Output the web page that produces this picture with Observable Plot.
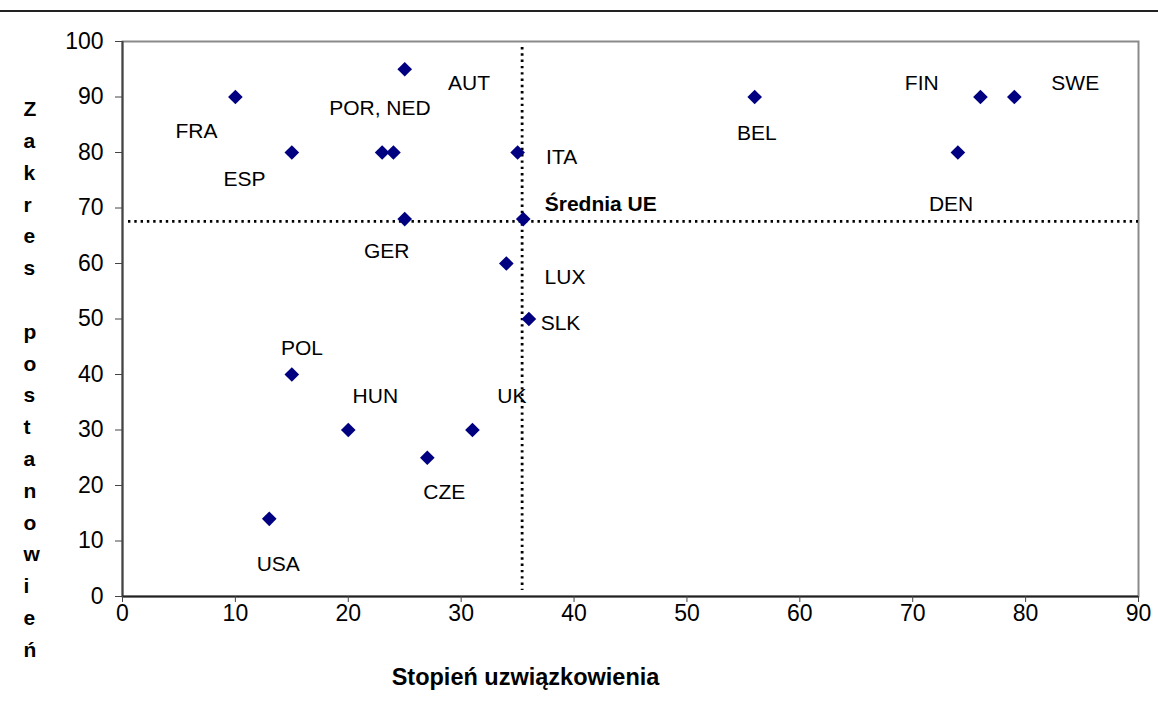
<!DOCTYPE html>
<html>
<head>
<meta charset="utf-8">
<script src="https://cdn.jsdelivr.net/npm/d3@7"></script>
<script src="https://cdn.jsdelivr.net/npm/@observablehq/plot@0.6"></script>
<style>
  html, body { margin: 0; padding: 0; background: #fff; }
  #wrap { position: relative; width: 1158px; height: 714px; overflow: hidden; }
  #rule { position: absolute; left: 0; top: 10px; width: 1158px; height: 2px; background: #222; }
  #chart { position: absolute; left: 0; top: 0; }
  #chart svg { font-family: "Liberation Sans", Arial, sans-serif; }
</style>
</head>
<body>
<div id="wrap">
  <div id="chart"></div>
  <div id="rule"></div>
</div>
<script>
// Data points: x = stopień uzwiązkowienia (union density, %), y = zakres postanowień (coverage, %)
const countries = ["FRA","ESP","AUT","POR","NED","ITA","GER","LUX","SLK","POL","HUN","UK","CZE","USA","BEL","FIN","SWE","DEN","UE"];
const unionDensity = [10, 15, 25, 23, 24, 35, 25, 34, 36, 15, 20, 31, 27, 13, 56, 76, 79, 74, 35.5];
const coverage     = [90, 80, 95, 80, 80, 80, 68, 60, 50, 40, 30, 30, 25, 14, 90, 90, 90, 80, 68];

// EU average reference lines
const euAvgDensity = 35.4;
const euAvgCoverage = 67.6;

// Label texts and their anchor values (in data units)
const labelTexts = ["FRA","ESP","POR, NED","AUT","ITA","GER","LUX","SLK","POL","HUN","UK","CZE","USA","BEL","FIN","SWE","DEN"];
const labelX     = [6.55, 10.8, 22.8, 30.7, 38.9, 23.4, 39.2, 38.8, 15.9, 22.4, 34.5, 28.5, 13.8, 56.2, 70.8, 84.4, 73.4];
const labelY     = [83.8, 75.2, 88.0, 92.4, 79.2, 62.2, 57.6, 49.2, 44.7, 36.0, 36.0, 18.7, 5.8, 83.5, 92.4, 92.4, 70.6];
const euLabel = ["Średnia UE"];
const euLabelX = [37.4];
const euLabelY = [70.6];

// Axis ticks and titles
const xTicks = [0,10,20,30,40,50,60,70,80,90];
const yTicks = [0,10,20,30,40,50,60,70,80,90,100];
const xTitle = "Stopień uzwiązkowienia";
const yTitle = "Zakres postanowień";

const points = countries.map((c, i) => ({country: c, x: unionDensity[i], y: coverage[i]}));
const labels = labelTexts.map((t, i) => ({text: t, x: labelX[i], y: labelY[i]}));
const euLabels = euLabel.map((t, i) => ({text: t, x: euLabelX[i], y: euLabelY[i]}));

const chart = Plot.plot({
  width: 1158,
  height: 714,
  marginTop: 41,
  marginBottom: 118,
  marginLeft: 122,
  marginRight: 20,
  style: {background: "#fff", color: "#000", fontFamily: "'Liberation Sans', Arial, sans-serif"},
  x: {domain: [0, 90]},
  y: {domain: [0, 100]},
  marks: [
    Plot.frame({stroke: "#8a8a8a", strokeWidth: 2}),
    Plot.ruleX([0], {stroke: "#444", strokeWidth: 2}),
    Plot.ruleY([0], {stroke: "#222", strokeWidth: 2}),
    Plot.axisY(yTicks, {tickSize: 7, tickPadding: 12, fontSize: 23, stroke: "#444", fill: "#000", label: null}),
    Plot.axisX(xTicks, {tickSize: 6, tickPadding: 2, fontSize: 23, stroke: "#444", fill: "#000", label: null}),
    Plot.ruleX([euAvgDensity], {stroke: "#000", strokeWidth: 2.8, strokeDasharray: "2.4,3.9", insetTop: 6, insetBottom: 6}),
    Plot.ruleY([euAvgCoverage], {stroke: "#000", strokeWidth: 2.8, strokeDasharray: "2.4,3.9", insetLeft: 6}),
    Plot.dot(points, {x: "x", y: "y", symbol: "diamond2", r: 6.6, fill: "#000080", stroke: null}),
    Plot.text(labels, {x: "x", y: "y", text: "text", fontSize: 21, fill: "#000"}),
    Plot.text(euLabels, {x: "x", y: "y", text: "text", fontSize: 21, fontWeight: "bold", fill: "#000", textAnchor: "start"}),
    Plot.text([xTitle], {frameAnchor: "bottom", text: d => d, dx: -105, dy: 88, fontSize: 23.5, fontWeight: "bold", fill: "#000"}),
    Plot.text([yTitle], {frameAnchor: "top-left", text: d => d.split("").join("\n"), dx: -99, dy: 52, lineAnchor: "top", lineHeight: 1.515, fontSize: 21, fontWeight: "bold", fill: "#000"})
  ]
});
document.getElementById("chart").appendChild(chart);
</script>
</body>
</html>
